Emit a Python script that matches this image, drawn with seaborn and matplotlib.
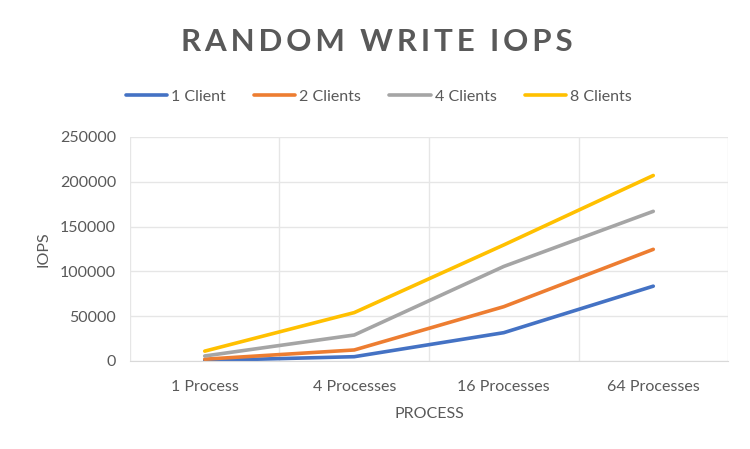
import matplotlib
matplotlib.use("Agg")
import matplotlib.pyplot as plt
import seaborn as sns
import pandas as pd

# values
processes = ["1 Process", "4 Processes", "16 Processes", "64 Processes"]
clients = ["1 Client", "2 Clients", "4 Clients", "8 Clients"]
iops_1 = [500, 4800, 31600, 83500]
iops_2 = [2000, 12300, 60600, 124600]
iops_4 = [5600, 29000, 105500, 167000]
iops_8 = [11000, 54000, 129500, 207000]
colors = ["#4472C4", "#ED7D31", "#A5A5A5", "#FFC000"]

rows = []
for name, vals in zip(clients, [iops_1, iops_2, iops_4, iops_8]):
    for i, (p, v) in enumerate(zip(processes, vals)):
        rows.append({"pos": i, "process": p, "clients": name, "iops": v})
df = pd.DataFrame(rows)

sns.set_style("white")
plt.rcParams["font.family"] = ["Lato", "DejaVu Sans"]
grey = "#595959"

fig = plt.figure(figsize=(7.5, 4.49), dpi=100)
ax = fig.add_axes([0.1733, 0.196, 0.7974, 0.499])

sns.lineplot(data=df, x="pos", y="iops", hue="clients", hue_order=clients,
             palette=colors, linewidth=2.6, ax=ax, legend=True)

ax.set_xlim(-0.5, 3.5)
ax.set_ylim(0, 250000)
ax.set_yticks(range(0, 250001, 50000))
ax.set_yticklabels([str(v) for v in range(0, 250001, 50000)])
ax.set_xticks(range(len(processes)))
ax.set_xticklabels(processes)
ax.set_xticks([-0.5, 0.5, 1.5, 2.5, 3.5], minor=True)
ax.grid(True, which="major", axis="y", color="#E6E6E6", linewidth=1)
ax.grid(True, which="minor", axis="x", color="#E6E6E6", linewidth=1)
ax.tick_params(axis="y", which="both", length=0, labelsize=11.5, colors=grey, pad=10)
ax.tick_params(axis="x", which="both", length=0, labelsize=11.5, colors=grey, pad=14)
for s in ["top", "right", "left"]:
    ax.spines[s].set_visible(False)
ax.spines["bottom"].set_color("#D9D9D9")
ax.set_axisbelow(True)

ax.set_xlabel("PROCESS", fontsize=11.5, color=grey, labelpad=9)
ax.set_ylabel("IOPS", fontsize=11.5, color=grey, labelpad=7)

handles, labels = ax.get_legend_handles_labels()
ax.legend_.remove()
fig.legend(handles, labels, loc="center", bbox_to_anchor=(0.505, 0.784), ncol=4,
           frameon=False, fontsize=11.5, handlelength=2.6, handletextpad=0.25,
           columnspacing=1.75, labelcolor=grey)

fig.text(0.503, 0.907, "R A N D O M   W R I T E   I O P S".replace(" ", "\u2009").replace("\u2009\u2009\u2009", "  "),
         ha="center", va="center", fontsize=22.5, fontweight="bold", color=grey)

fig.savefig("out.png", dpi=100)
